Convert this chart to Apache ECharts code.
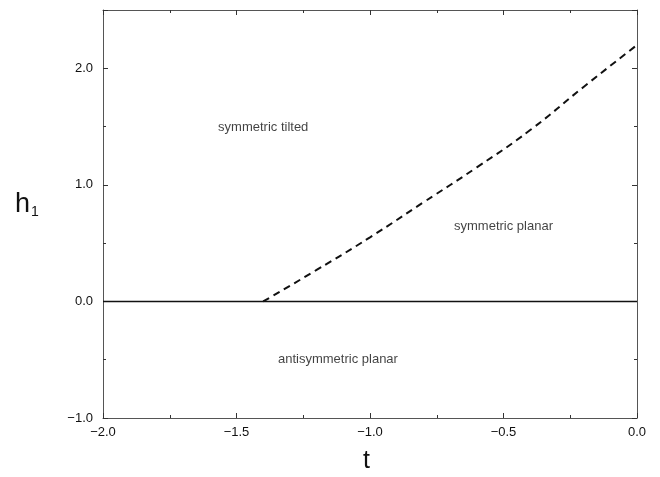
<!DOCTYPE html>
<html><head><meta charset="utf-8">
<script src="https://cdn.jsdelivr.net/npm/echarts@6/dist/echarts.min.js"></script>
<style>html,body{margin:0;padding:0;background:#fff}#c{width:660px;height:477px}</style>
</head><body><div id="c"></div>
<script>
// boundary between symmetric tilted and symmetric planar (dashed)
const boundaryT = [-1.4, -1.2, -1.0, -0.8, -0.6, -0.4, -0.2, 0.0];
const boundaryH = [0.0, 0.27, 0.55, 0.85, 1.15, 1.47, 1.84, 2.2];
// solid boundary h1 = 0
const zeroLineT = [-2.0, 0.0];
const zeroLineH = [0.0, 0.0];
// region labels
const regionNames = ['symmetric tilted', 'symmetric planar', 'antisymmetric planar'];
const regionT = [-1.40, -0.50, -1.12];
const regionH = [1.49, 0.64, -0.50];

const font = 'Liberation Sans, Arial, sans-serif';
const fmt = v => (v < 0 ? '\u2212' + Math.abs(v).toFixed(1) : v.toFixed(1));
const axisLine = {show: true, onZero: false, lineStyle: {color: '#555', width: 1}};
const tick = {show: true, inside: true, length: 5, lineStyle: {color: '#333'}};
const minor = {show: true, splitNumber: 2, length: 3, lineStyle: {color: '#333'}};

const chart = echarts.init(document.getElementById('c'));
chart.setOption({
  animation: false,
  backgroundColor: '#fff',
  grid: {left: 103, right: 23, top: 10, bottom: 59},
  xAxis: [
    {type: 'value', min: -2, max: 0, interval: 0.5, position: 'bottom',
     axisLine, axisTick: tick, minorTick: minor, splitLine: {show: false},
     axisLabel: {formatter: fmt, color: '#111', fontFamily: font, fontSize: 13, margin: 8}},
    {type: 'value', min: -2, max: 0, interval: 0.5, position: 'top',
     axisLine, axisTick: tick, minorTick: minor, splitLine: {show: false}, axisLabel: {show: false}}
  ],
  yAxis: [
    {type: 'value', min: -1, max: 2.5, interval: 1, position: 'left',
     axisLine, axisTick: tick, minorTick: minor, splitLine: {show: false},
     axisLabel: {formatter: fmt, color: '#111', fontFamily: font, fontSize: 13, margin: 10, showMaxLabel: false}},
    {type: 'value', min: -1, max: 2.5, interval: 1, position: 'right',
     axisLine, axisTick: tick, minorTick: minor, splitLine: {show: false}, axisLabel: {show: false}}
  ],
  graphic: [
    {type: 'text', left: 15, top: 191, style: {
      text: '{a|h}{b|1}', rich: {
        a: {fontSize: 27, fontFamily: font, fill: '#111'},
        b: {fontSize: 14, fontFamily: font, fill: '#111', verticalAlign: 'bottom', padding: [16, 0, 0, 1]}
      }}},
    {type: 'text', left: 363, top: 449, style: {text: 't', fontSize: 25, fontFamily: font, fill: '#111'}}
  ],
  series: [
    {type: 'line', data: zeroLineT.map((t, i) => [t, zeroLineH[i]]), symbol: 'none',
     lineStyle: {color: '#111', width: 1.6}},
    {type: 'line', data: boundaryT.map((t, i) => [t, boundaryH[i]]), symbol: 'none', smooth: true,
     lineStyle: {color: '#111', width: 2, type: [7, 5]}},
    {type: 'scatter', symbolSize: 0, data: regionT.map((t, i) => ({value: [t, regionH[i]], name: regionNames[i]})),
     label: {show: true, position: 'inside', formatter: p => p.name, color: '#111', fontFamily: font, fontSize: 13}}
  ]
});
</script></body></html>
